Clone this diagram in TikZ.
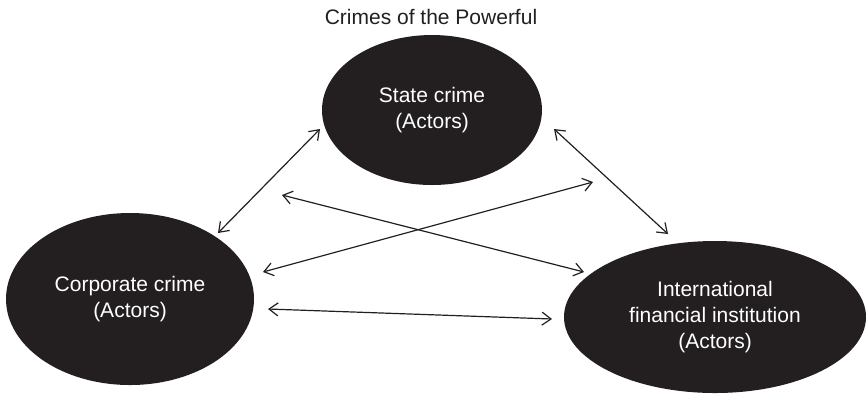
\documentclass[tikz,border=0pt]{standalone}
\usepackage{fontspec}
\setmainfont{Liberation Sans}
\usetikzlibrary{arrows.meta,shapes.geometric}
\definecolor{blob}{HTML}{231F20}
\definecolor{ink}{HTML}{231F20}
\tikzset{
  actor/.style={ellipse, fill=blob, draw=none, inner sep=0pt, text=white, align=center,
    font=\fontsize{10.5}{13}\selectfont},
  link/.style={draw=ink, line width=0.6pt, {Straight Barb[length=4.5pt,width=6.5pt]}-{Straight Barb[length=4.5pt,width=6.5pt]}},
  titletext/.style={font=\fontsize{10.5}{13}\selectfont, text=ink, inner sep=0pt, anchor=base}
}
\begin{document}
\begin{tikzpicture}[x=0.5pt,y=-0.5pt]
\useasboundingbox (0,0) rectangle (866,393);
\node[titletext] (title) at (431,24) {Crimes of the Powerful};
\node[actor, minimum width=110pt, minimum height=75pt] (state) at (432,110) {State crime\\(Actors)};
\node[actor, minimum width=124pt, minimum height=86pt] (corp) at (130,299) {Corporate crime\\(Actors)};
\node[actor, minimum width=151pt, minimum height=76pt] (ifi) at (715,317) {International\\financial institution\\(Actors)};
\coordinate (a1) at (218,233); \coordinate (a2) at (320,129);
\coordinate (b1) at (554,129); \coordinate (b2) at (668,234);
\coordinate (c1) at (282,195); \coordinate (c2) at (584,272);
\coordinate (d1) at (263,272); \coordinate (d2) at (593,182);
\coordinate (e1) at (268,309); \coordinate (e2) at (552,319);
\draw[link] (a1) -- (a2);
\draw[link] (b1) -- (b2);
\draw[link] (c1) -- (c2);
\draw[link] (d1) -- (d2);
\draw[link] (e1) -- (e2);
\end{tikzpicture}
\end{document}
